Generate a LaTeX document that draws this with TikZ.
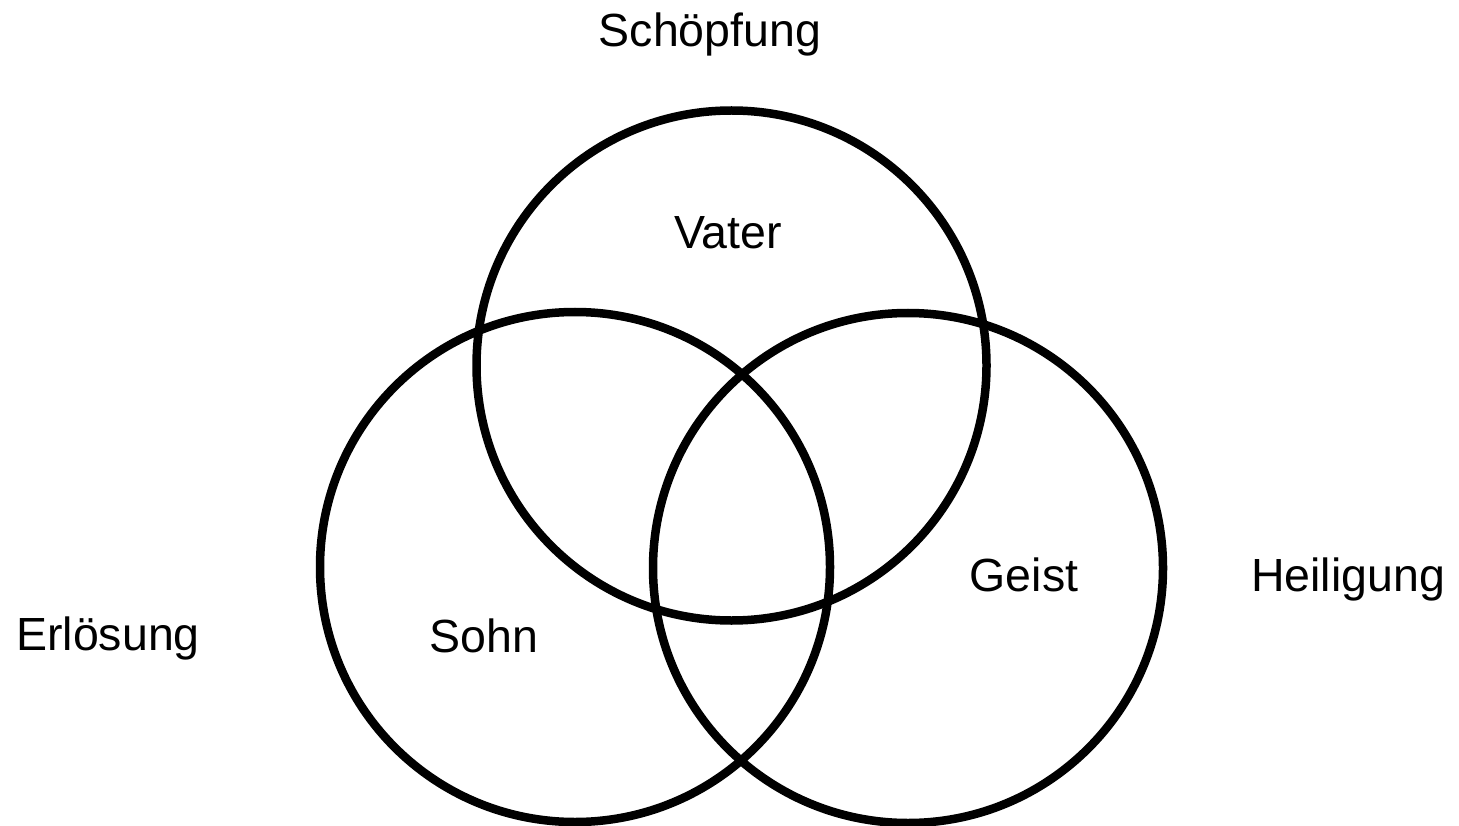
\documentclass[tikz,border=0pt]{standalone}
\usepackage{fontspec}
\setmainfont{Liberation Sans}
\tikzset{
  ring/.style={circle, draw=black, line width=8.5pt, minimum size=510pt, inner sep=0pt},
  lbl/.style={anchor=base, inner sep=0pt, font=\fontsize{46.5}{52}\selectfont}
}
\begin{document}
\begin{tikzpicture}[x=1pt, y=-1pt]
\useasboundingbox (0,0) rectangle (1459,826);
\node[ring] (vater) at (731.5,365.5) {};
\node[ring] (sohn) at (575,567) {};
\node[ring] (geist) at (908,568) {};
\node[lbl] (tschoepfung) at (710,47) {Schöpfung};
\node[lbl] (tvater) at (728,249) {Vater};
\node[lbl] (tsohn) at (484,652) {Sohn};
\node[lbl] (tgeist) at (1024,591) {Geist};
\node[lbl] (theiligung) at (1348,591) {Heiligung};
\node[lbl] (terloesung) at (108,650) {Erlösung};
\end{tikzpicture}
\end{document}
